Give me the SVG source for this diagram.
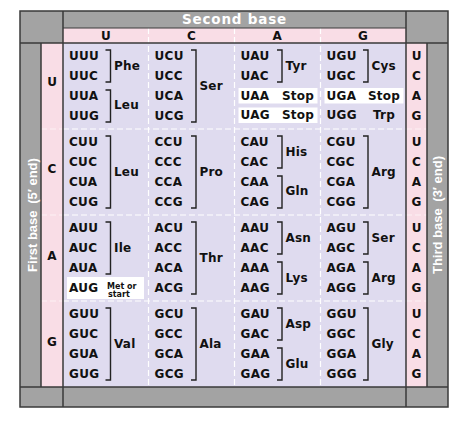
<svg xmlns="http://www.w3.org/2000/svg" width="474" height="431" viewBox="0 0 474 431">
<style>
.gr{fill:#a3a3a3}
.pk{fill:#f9dde6}
.lv{fill:#dfdbef}
.wb{fill:#ffffff}
.ln{stroke:#3a3a3a;stroke-width:1.5;fill:none}
.ds{stroke:#ffffff;stroke-width:1.2;stroke-dasharray:6 3;fill:none}
.dsf{stroke:#ffffff;stroke-width:1;stroke-dasharray:6 3;fill:none;opacity:0.6}
.br{stroke:#222;stroke-width:1.4;fill:none}
text{font-family:"DejaVu Sans","Liberation Sans",sans-serif;font-weight:bold;fill:#111}
.c{font-size:12px;letter-spacing:0.3px}
.a{font-size:12px;letter-spacing:0.2px}
.b{font-size:12px;text-anchor:middle}
.s{font-size:8px}
.h{font-size:13.5px;fill:#fff;letter-spacing:0.8px;text-anchor:middle}
.v{font-family:"Liberation Sans",Arial,sans-serif;font-size:13px;fill:#fff;text-anchor:middle}
</style>
<rect width="474" height="431" fill="#fff"/>
<g id="frame">
<rect class="gr" x="20" y="11" width="428" height="396"/>
<rect class="pk" x="63" y="28" width="343" height="15"/>
<rect class="pk" x="41" y="43" width="22" height="344"/>
<rect class="pk" x="406" y="43" width="21" height="344"/>
<rect class="lv" x="63" y="43" width="343" height="344"/>
</g>
<g id="grid-dashes">
<path class="ds" d="M148.5 28V387M234.5 28V387M320.5 28V387"/>
<path class="ds" d="M63 129H406M63 215H406M63 301H406"/>
<path class="dsf" d="M41 129H63M41 215H63M41 301H63M406 129H427M406 215H427M406 301H427"/>
</g>
<g id="frame-lines">
<rect class="ln" x="20" y="11" width="428" height="396"/>
<path class="ln" d="M63 11V407M406 11V407M20 43H448M20 387H448M41 43V387M427 43V387"/>
<path class="ln" d="M63 28H406" style="stroke-width:1"/>
</g>
<g id="header">
<text class="h" x="234.5" y="24">Second base</text>
<text class="b" x="105.75" y="39.5">U</text>
<text class="b" x="191.5" y="39.5">C</text>
<text class="b" x="277.25" y="39.5">A</text>
<text class="b" x="363" y="39.5">G</text>
</g>
<g id="first-base">
<text class="v" transform="translate(36.5,215) rotate(-90)">First base <tspan dx="3">(5′ end)</tspan></text>
<text class="b" x="52" y="86">U</text>
<text class="b" x="52" y="173">C</text>
<text class="b" x="52" y="260">A</text>
<text class="b" x="52" y="346">G</text>
</g>
<g id="third-base">
<text class="v" transform="translate(442,215) rotate(-90)">Third base <tspan dx="3">(3′ end)</tspan></text>
<text class="b" x="416.5" y="60">U</text><text class="b" x="416.5" y="80">C</text><text class="b" x="416.5" y="100">A</text><text class="b" x="416.5" y="120">G</text>
<text class="b" x="416.5" y="146">U</text><text class="b" x="416.5" y="166">C</text><text class="b" x="416.5" y="186">A</text><text class="b" x="416.5" y="206">G</text>
<text class="b" x="416.5" y="232">U</text><text class="b" x="416.5" y="252">C</text><text class="b" x="416.5" y="272">A</text><text class="b" x="416.5" y="292">G</text>
<text class="b" x="416.5" y="318">U</text><text class="b" x="416.5" y="338">C</text><text class="b" x="416.5" y="358">A</text><text class="b" x="416.5" y="378">G</text>
</g>
<g id="white-boxes">
<rect class="wb" x="238.5" y="88" width="79" height="15.5"/>
<rect class="wb" x="238.5" y="107.5" width="79" height="15.5"/>
<rect class="wb" x="324.5" y="88" width="79" height="15.5"/>
<rect class="wb" x="67" y="277" width="77" height="22"/>
</g>
<g id="brackets">
<path class="br" d="M105.5 50H110.5V82H105.5M105.5 90H110.5V122H105.5"/>
<path class="br" d="M191 50H196V122H191"/>
<path class="br" d="M277 50H282V82H277"/>
<path class="br" d="M363 50H368V82H363"/>
<path class="br" d="M105.5 136H110.5V208H105.5"/>
<path class="br" d="M191 136H196V208H191"/>
<path class="br" d="M277 136H282V168H277M277 176H282V208H277"/>
<path class="br" d="M363 136H368V208H363"/>
<path class="br" d="M105.5 222H110.5V274H105.5"/>
<path class="br" d="M191 222H196V294H191"/>
<path class="br" d="M277 222H282V254H277M277 262H282V294H277"/>
<path class="br" d="M363 222H368V254H363M363 262H368V294H363"/>
<path class="br" d="M105.5 308H110.5V380H105.5"/>
<path class="br" d="M191 308H196V380H191"/>
<path class="br" d="M277 308H282V340H277M277 348H282V380H277"/>
<path class="br" d="M363 308H368V380H363"/>
</g>
<g id="cell-UU">
<text class="c" x="69" y="60">UUU</text><text class="c" x="69" y="80">UUC</text><text class="c" x="69" y="100">UUA</text><text class="c" x="69" y="120">UUG</text>
<text class="a" x="114" y="70">Phe</text><text class="a" x="114" y="109">Leu</text>
</g>
<g id="cell-UC">
<text class="c" x="154.5" y="60">UCU</text><text class="c" x="154.5" y="80">UCC</text><text class="c" x="154.5" y="100">UCA</text><text class="c" x="154.5" y="120">UCG</text>
<text class="a" x="199.5" y="90">Ser</text>
</g>
<g id="cell-UA">
<text class="c" x="240.5" y="60">UAU</text><text class="c" x="240.5" y="80">UAC</text>
<text class="a" x="285.5" y="70">Tyr</text>
<text class="c" x="240.5" y="99.5">UAA</text><text class="a" x="282" y="99.5">Stop</text>
<text class="c" x="240.5" y="119">UAG</text><text class="a" x="282" y="119">Stop</text>
</g>
<g id="cell-UG">
<text class="c" x="326.5" y="60">UGU</text><text class="c" x="326.5" y="80">UGC</text>
<text class="a" x="371.5" y="70">Cys</text>
<text class="c" x="326.5" y="99.5">UGA</text><text class="a" x="368" y="99.5">Stop</text>
<text class="c" x="326.5" y="119">UGG</text><text class="a" x="373" y="119">Trp</text>
</g>
<g id="cell-CU">
<text class="c" x="69" y="146">CUU</text><text class="c" x="69" y="166">CUC</text><text class="c" x="69" y="186">CUA</text><text class="c" x="69" y="206">CUG</text>
<text class="a" x="114" y="176">Leu</text>
</g>
<g id="cell-CC">
<text class="c" x="154.5" y="146">CCU</text><text class="c" x="154.5" y="166">CCC</text><text class="c" x="154.5" y="186">CCA</text><text class="c" x="154.5" y="206">CCG</text>
<text class="a" x="199.5" y="176">Pro</text>
</g>
<g id="cell-CA">
<text class="c" x="240.5" y="146">CAU</text><text class="c" x="240.5" y="166">CAC</text><text class="c" x="240.5" y="186">CAA</text><text class="c" x="240.5" y="206">CAG</text>
<text class="a" x="285.5" y="156">His</text><text class="a" x="285.5" y="195">Gln</text>
</g>
<g id="cell-CG">
<text class="c" x="326.5" y="146">CGU</text><text class="c" x="326.5" y="166">CGC</text><text class="c" x="326.5" y="186">CGA</text><text class="c" x="326.5" y="206">CGG</text>
<text class="a" x="371.5" y="176">Arg</text>
</g>
<g id="cell-AU">
<text class="c" x="69" y="232">AUU</text><text class="c" x="69" y="252">AUC</text><text class="c" x="69" y="272">AUA</text>
<text class="a" x="114" y="252">Ile</text>
<text class="c" x="69" y="292">AUG</text>
<text class="s" x="107" y="288.5">Met or</text><text class="s" x="108" y="296.5">start</text>
</g>
<g id="cell-AC">
<text class="c" x="154.5" y="232">ACU</text><text class="c" x="154.5" y="252">ACC</text><text class="c" x="154.5" y="272">ACA</text><text class="c" x="154.5" y="292">ACG</text>
<text class="a" x="199.5" y="262">Thr</text>
</g>
<g id="cell-AA">
<text class="c" x="240.5" y="232">AAU</text><text class="c" x="240.5" y="252">AAC</text><text class="c" x="240.5" y="272">AAA</text><text class="c" x="240.5" y="292">AAG</text>
<text class="a" x="285.5" y="242">Asn</text><text class="a" x="285.5" y="282">Lys</text>
</g>
<g id="cell-AG">
<text class="c" x="326.5" y="232">AGU</text><text class="c" x="326.5" y="252">AGC</text><text class="c" x="326.5" y="272">AGA</text><text class="c" x="326.5" y="292">AGG</text>
<text class="a" x="371.5" y="242">Ser</text><text class="a" x="371.5" y="282">Arg</text>
</g>
<g id="cell-GU">
<text class="c" x="69" y="318">GUU</text><text class="c" x="69" y="338">GUC</text><text class="c" x="69" y="358">GUA</text><text class="c" x="69" y="378">GUG</text>
<text class="a" x="114" y="348">Val</text>
</g>
<g id="cell-GC">
<text class="c" x="154.5" y="318">GCU</text><text class="c" x="154.5" y="338">GCC</text><text class="c" x="154.5" y="358">GCA</text><text class="c" x="154.5" y="378">GCG</text>
<text class="a" x="199.5" y="348">Ala</text>
</g>
<g id="cell-GA">
<text class="c" x="240.5" y="318">GAU</text><text class="c" x="240.5" y="338">GAC</text><text class="c" x="240.5" y="358">GAA</text><text class="c" x="240.5" y="378">GAG</text>
<text class="a" x="285.5" y="328">Asp</text><text class="a" x="285.5" y="368">Glu</text>
</g>
<g id="cell-GG">
<text class="c" x="326.5" y="318">GGU</text><text class="c" x="326.5" y="338">GGC</text><text class="c" x="326.5" y="358">GGA</text><text class="c" x="326.5" y="378">GGG</text>
<text class="a" x="371.5" y="348">Gly</text>
</g>
</svg>
